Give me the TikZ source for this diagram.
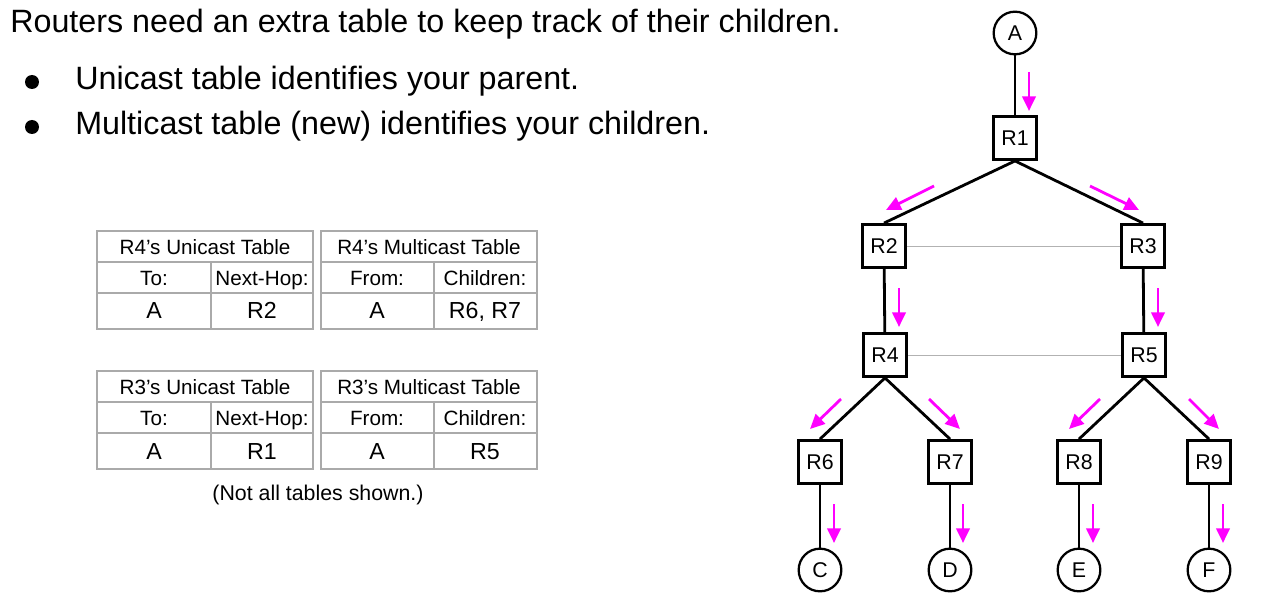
\documentclass[tikz,border=0pt]{standalone}
\usepackage{fontspec}
\setmainfont{Liberation Sans}[Ligatures=ResetAll]
\usetikzlibrary{arrows.meta,calc}
\definecolor{mag}{RGB}{255,0,255}
\definecolor{gridgray}{RGB}{170,170,170}
\begin{document}
\begin{tikzpicture}[x=0.75pt,y=-0.75pt,
 box/.style={draw,line width=1.9pt,minimum size=32.5pt,inner sep=0pt,font=\fontsize{16}{18}\selectfont},
 host/.style={draw,circle,line width=1.7pt,minimum size=32pt,inner sep=0pt,font=\fontsize{16}{18}\selectfont},
 edge/.style={line width=2.1pt},
 peer/.style={draw=black!30,line width=0.7pt},
 flow/.style={draw=mag,line width=2.1pt,-{Triangle[length=11pt,width=10pt]}},
 tgrid/.style={draw=gridgray,line width=1pt},
 hdr/.style={anchor=base,font=\fontsize{15.5}{18}\selectfont,inner sep=0pt},
 val/.style={anchor=base,font=\fontsize{17.4}{20}\selectfont,inner sep=0pt},
 big/.style={anchor=base west,font=\fontsize{24.2}{28}\selectfont,inner sep=0pt},
]
\useasboundingbox (0,0) rectangle (1261,606);

% text
\node[big] (title) at (10,33) {Routers need an extra table to keep track of their children.};
\fill (32,82) circle (7);
\node[big] (b1) at (75,90) {Unicast table identifies your parent.};
\fill (32,127) circle (7);
\node[big] (b2) at (75,135) {Multicast table (new) identifies your children.};

% tables
\foreach \dy/\rt/\nh/\ch in {0/R4/R2/{R6, R7}, 140/R3/R1/R5}{
  \draw[tgrid] (97,231+\dy) rectangle (313,329+\dy);
  \draw[tgrid] (97,262+\dy) -- (313,262+\dy) (97,293+\dy) -- (313,293+\dy) (211,262+\dy) -- (211,329+\dy);
  \draw[tgrid] (321,231+\dy) rectangle (537,329+\dy);
  \draw[tgrid] (321,262+\dy) -- (537,262+\dy) (321,293+\dy) -- (537,293+\dy) (434,262+\dy) -- (434,329+\dy);
  \node[hdr] at (205,254.5+\dy) {\rt's Unicast Table};
  \node[hdr] at (429,254.5+\dy) {\rt's Multicast Table};
  \node[hdr] at (154,285.5+\dy) {To:};
  \node[hdr] at (262,285.5+\dy) {Next-Hop:};
  \node[hdr] at (377,285.5+\dy) {From:};
  \node[hdr] at (485,285.5+\dy) {Children:};
  \node[val] at (154,319+\dy) {A};
  \node[val] at (262,319+\dy) {\nh};
  \node[val] at (377,319+\dy) {A};
  \node[val] at (485,319+\dy) {\ch};
}
\node[anchor=base,font=\fontsize{16}{18}\selectfont,inner sep=0pt] (cap) at (318,500) {(Not all tables shown.)};

% tree
\node[host] (A) at (1015,33) {A};
\node[box] (R1) at (1015,138) {R1};
\node[box] (R2) at (884,246) {R2};
\node[box] (R3) at (1143,246) {R3};
\node[box] (R4) at (885,355) {R4};
\node[box] (R5) at (1144,355) {R5};
\node[box] (R6) at (820,462) {R6};
\node[box] (R7) at (950,462) {R7};
\node[box] (R8) at (1079,462) {R8};
\node[box] (R9) at (1209,462) {R9};
\node[host] (C) at (820,570) {C};
\node[host] (D) at (950,570) {D};
\node[host] (E) at (1079,570) {E};
\node[host] (F) at (1209,570) {F};

\draw[edge] (A) -- (R1);
\draw[edge] (R1.south) -- (R2.north);
\draw[edge] (R1.south) -- (R3.north);
\draw[edge] (R2) -- (R4);
\draw[edge] (R3) -- (R5);
\draw[edge] (R4.south) -- (R6.north);
\draw[edge] (R4.south) -- (R7.north);
\draw[edge] (R5.south) -- (R8.north);
\draw[edge] (R5.south) -- (R9.north);
\draw[edge] (R6) -- (C);
\draw[edge] (R7) -- (D);
\draw[edge] (R8) -- (E);
\draw[edge] (R9) -- (F);
\draw[peer] (R2) -- (R3);
\draw[peer] (R4) -- (R5);

% multicast flow arrows
\draw[flow] (1029,72) -- (1029,111);
\draw[flow] (934,186) -- (886,210);
\draw[flow] (1090,186) -- (1139,210);
\draw[flow] (899,288) -- (899,327);
\draw[flow] (1158,288) -- (1158,327);
\draw[flow] (841,399) -- (810,429);
\draw[flow] (929,399) -- (960,429);
\draw[flow] (1100,399) -- (1069,429);
\draw[flow] (1189,399) -- (1219,429);
\draw[flow] (834,504) -- (834,543);
\draw[flow] (963,504) -- (963,543);
\draw[flow] (1093,504) -- (1093,543);
\draw[flow] (1223,504) -- (1223,543);
\end{tikzpicture}
\end{document}
